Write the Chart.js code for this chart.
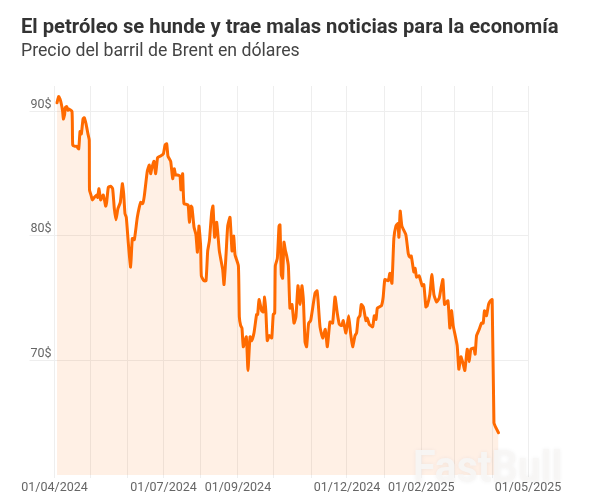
<!DOCTYPE html>
<html><head><meta charset="utf-8">
<style>html,body{margin:0;padding:0;background:#fff}canvas{display:block}</style>
<script src="https://cdn.jsdelivr.net/npm/chart.js@4"></script>
</head><body><canvas id="c" width="596" height="501"></canvas>
<script>
const titleText = "El petróleo se hunde y trae malas noticias para la economía";
const subtitleText = "Precio del barril de Brent en dólares";
// days since 01/04/2024
const days = [2.1,3.5,4.6,5.7,6.8,7.4,8.5,9,10.2,11.3,11.8,14.6,15.2,17.1,18.5,20.2,21.3,22.4,23.8,24.9,26.3,27.9,29,29.2,30.4,31.6,33.2,35.2,36,37.1,38.5,40.7,42.7,43.5,44.9,46.8,48.5,49.9,51.3,52.9,54.9,56.6,57.7,58.8,59.9,61.6,63.5,64.9,66.6,69.1,71.9,73.6,74.9,77.4,79.1,80.2,81.3,83,84.4,86,88,90.8,92.2,93.6,94.7,96.9,98.6,99.9,101,102.7,104.7,105.5,106.9,108,111.4,112.5,113.9,114.7,116.4,118,119.2,120.5,121.9,122.5,124.7,126.4,127.8,129.2,131.1,132.2,133.6,135.3,137.5,140.3,141.4,143.1,144.5,146.4,148.1,149.5,150.6,153.4,154.2,155.3,156.4,157.5,160,161.4,163.1,164.5,166.4,168.6,169.5,170.6,172.8,174.2,175.3,176.4,177.5,179.2,181.2,182.5,183.7,184.2,185.9,187.3,188.1,189.2,190.3,191.4,192.5,193.7,195.1,196.4,198.1,199.8,201.4,203.1,204.8,206.4,207.6,209,210.3,212,213.7,217.3,219,219.8,221.5,223.7,225.9,227.6,229.8,232,234,235.9,237.6,239.5,240.9,243.1,245.4,247,248.7,250.7,252,253.4,254.8,255.9,257.6,259.8,260.9,262.6,265.4,266.8,268.2,269.3,271,272.8,274.2,275.6,278.4,279.8,281.5,283.1,284.8,286.5,287.3,288.4,289.8,293.1,295.1,296.5,297.6,299.8,300.9,302,304.2,306.7,308.1,309.8,310.9,313.1,314.8,316.5,318.7,320.9,322.6,324,325.4,328.2,329.8,331.2,332.6,335.9,337.3,339,340.7,342.3,344.3,345.9,347.3,349.8,350.9,352.1,354.3,356.2,357.6,358.7,360.4,362.1,363.7,365.1,366.6,368.2,370.4];
const prices = [90.7,91.2,91,90.6,90,89.4,89.8,90.3,90.4,90.1,90.2,90,87.3,87.2,87.2,87,88.4,88.2,89.4,89.5,89,88.2,87.7,83.7,83.3,82.9,83.1,83.3,83.1,83.8,82.9,83.3,82.4,82.7,83.9,84,83.8,82.2,81.3,82.2,82.7,84.2,83.4,81.8,81.5,79.4,77.5,79.8,79.7,81.5,82.7,82.6,83.2,85.2,85.7,85,85.5,86,85,86.3,86.4,86.6,87.3,87.4,86.4,86,84.6,85.4,84.9,84.9,84.8,83.7,85,82.6,82.5,81.1,82.4,82.3,80.7,80.1,78.7,80.8,79.2,76.8,76.4,76.4,78.8,79.6,81.9,82.4,79.9,81.1,78.8,77.3,76.1,78.5,80.8,81.5,78.8,80,78.5,77.6,73.5,72.8,72.6,71.1,71.9,69.2,71.9,71.6,72.2,73.7,73.7,74.9,74,73.9,75.1,73.8,71.6,72,71.8,73.7,73.8,77.6,78.2,80.8,80.9,76.9,76.6,79.5,78.9,78.4,77.6,74.2,74.5,73,73.5,76,74.5,76,74.9,71.5,71.1,73,73.2,75.4,75.6,74.9,72.7,71.8,72.5,71.1,73.1,73,75.1,73.8,72.9,72.8,73.2,72.2,73.6,72.2,71.1,72,72.2,73.4,73.6,74.5,74.3,73.2,73.4,72.9,72.7,73.6,73.3,74.2,74.3,74.4,75.1,76.5,76.4,77,76.2,79.8,80.8,81,79.9,82,80.8,80.1,78.6,78.3,78.4,77.1,77.4,76.7,76.8,76,76.1,74.3,74.4,75.3,76.9,75.3,74.7,75,75.9,76.5,74.5,74.8,72.6,74,72.8,71.2,69.3,70.3,69.8,69.2,70.9,69.9,70.9,71,70.5,72,72.5,73,73,74,73.6,74.5,74.8,74.9,65,64.6,64.2];
const monthDays = [0,30,61,91,122,153,183,214,244,275,306,334,365,395];
const labelDays = [0,91,153,244,306,395];
const labelTexts = ["01/04/2024","01/07/2024","01/09/2024","01/12/2024","01/02/2025","01/05/2025"];
const priceTicks = [70,80,90];
const watermark = "FastBull";

const watermarkPlugin = {
  id:'watermark',
  afterLayout(chart){
    const t = chart.titleBlock;
    if (t && !t._wide){
      t._wide = true;
      const draw = t.draw;
      t.draw = function(){
        this.right = chart.width;
        draw.apply(this, arguments);
      };
    }
  },
  afterDraw(chart){
    const c = chart.ctx;
    c.save();
    c.translate(413,482);
    c.scale(0.91,1);
    c.font = 'bold 45px Roboto';
    c.textAlign='left'; c.textBaseline='alphabetic';
    c.shadowColor='rgba(0,0,0,0.06)'; c.shadowBlur=4;
    c.fillStyle='rgba(247,246,245,0.9)';
    c.fillText(watermark,0,0);
    c.restore();
  }
};

new Chart(document.getElementById('c'),{
  type:'line',
  data:{datasets:[{
    data:days.map((d,i)=>({x:d,y:prices[i]})),
    borderColor:'#ff6a00',
    borderWidth:3,
    borderJoinStyle:'round',
    borderCapStyle:'round',
    backgroundColor:'rgba(255,106,0,0.1)',
    fill:'start',
    pointRadius:0,
    tension:0.15
  }]},
  plugins:[watermarkPlugin],
  options:{
    responsive:false,
    animation:false,
    devicePixelRatio:1,
    layout:{padding:{left:21,right:68,top:0,bottom:0}},
    plugins:{
      legend:{display:false},
      tooltip:{enabled:false},
      title:{display:true,text:titleText,align:'start',color:'#333',
        font:{family:'Roboto',size:20.2,weight:'bold',lineHeight:1.2},
        padding:{top:15.5,bottom:1}},
      subtitle:{display:true,text:subtitleText,align:'start',color:'#444',
        font:{family:'Roboto',size:17.7,weight:'normal',lineHeight:1.2},
        padding:{top:0,bottom:24}}
    },
    scales:{
      x:{type:'linear',min:0,max:395,
        afterBuildTicks(s){s.ticks=monthDays.map(v=>({value:v}));},
        afterFit(s){s.height=26;},
        grid:{color:'#eeeeee',tickLength:3,lineWidth:1},
        border:{display:false},
        ticks:{autoSkip:false,maxRotation:0,minRotation:0,color:'#666',padding:2,
          font:{family:'Roboto',size:12.5},
          callback(v){const i=labelDays.indexOf(v);return i<0?'':labelTexts[i];}}
      },
      y:{type:'linear',min:60.8,max:92.05,
        afterBuildTicks(s){s.ticks=priceTicks.map(v=>({value:v}));},
        afterFit(s){s.width=33.5;},
        grid:{color:'#eeeeee',tickLength:25,lineWidth:1},
        border:{display:false},
        ticks:{color:'#666',padding:-22,labelOffset:-7,
          font:{family:'Roboto',size:12.5},
          callback(v){return v+'$';}}
      }
    }
  }
});
</script></body></html>
